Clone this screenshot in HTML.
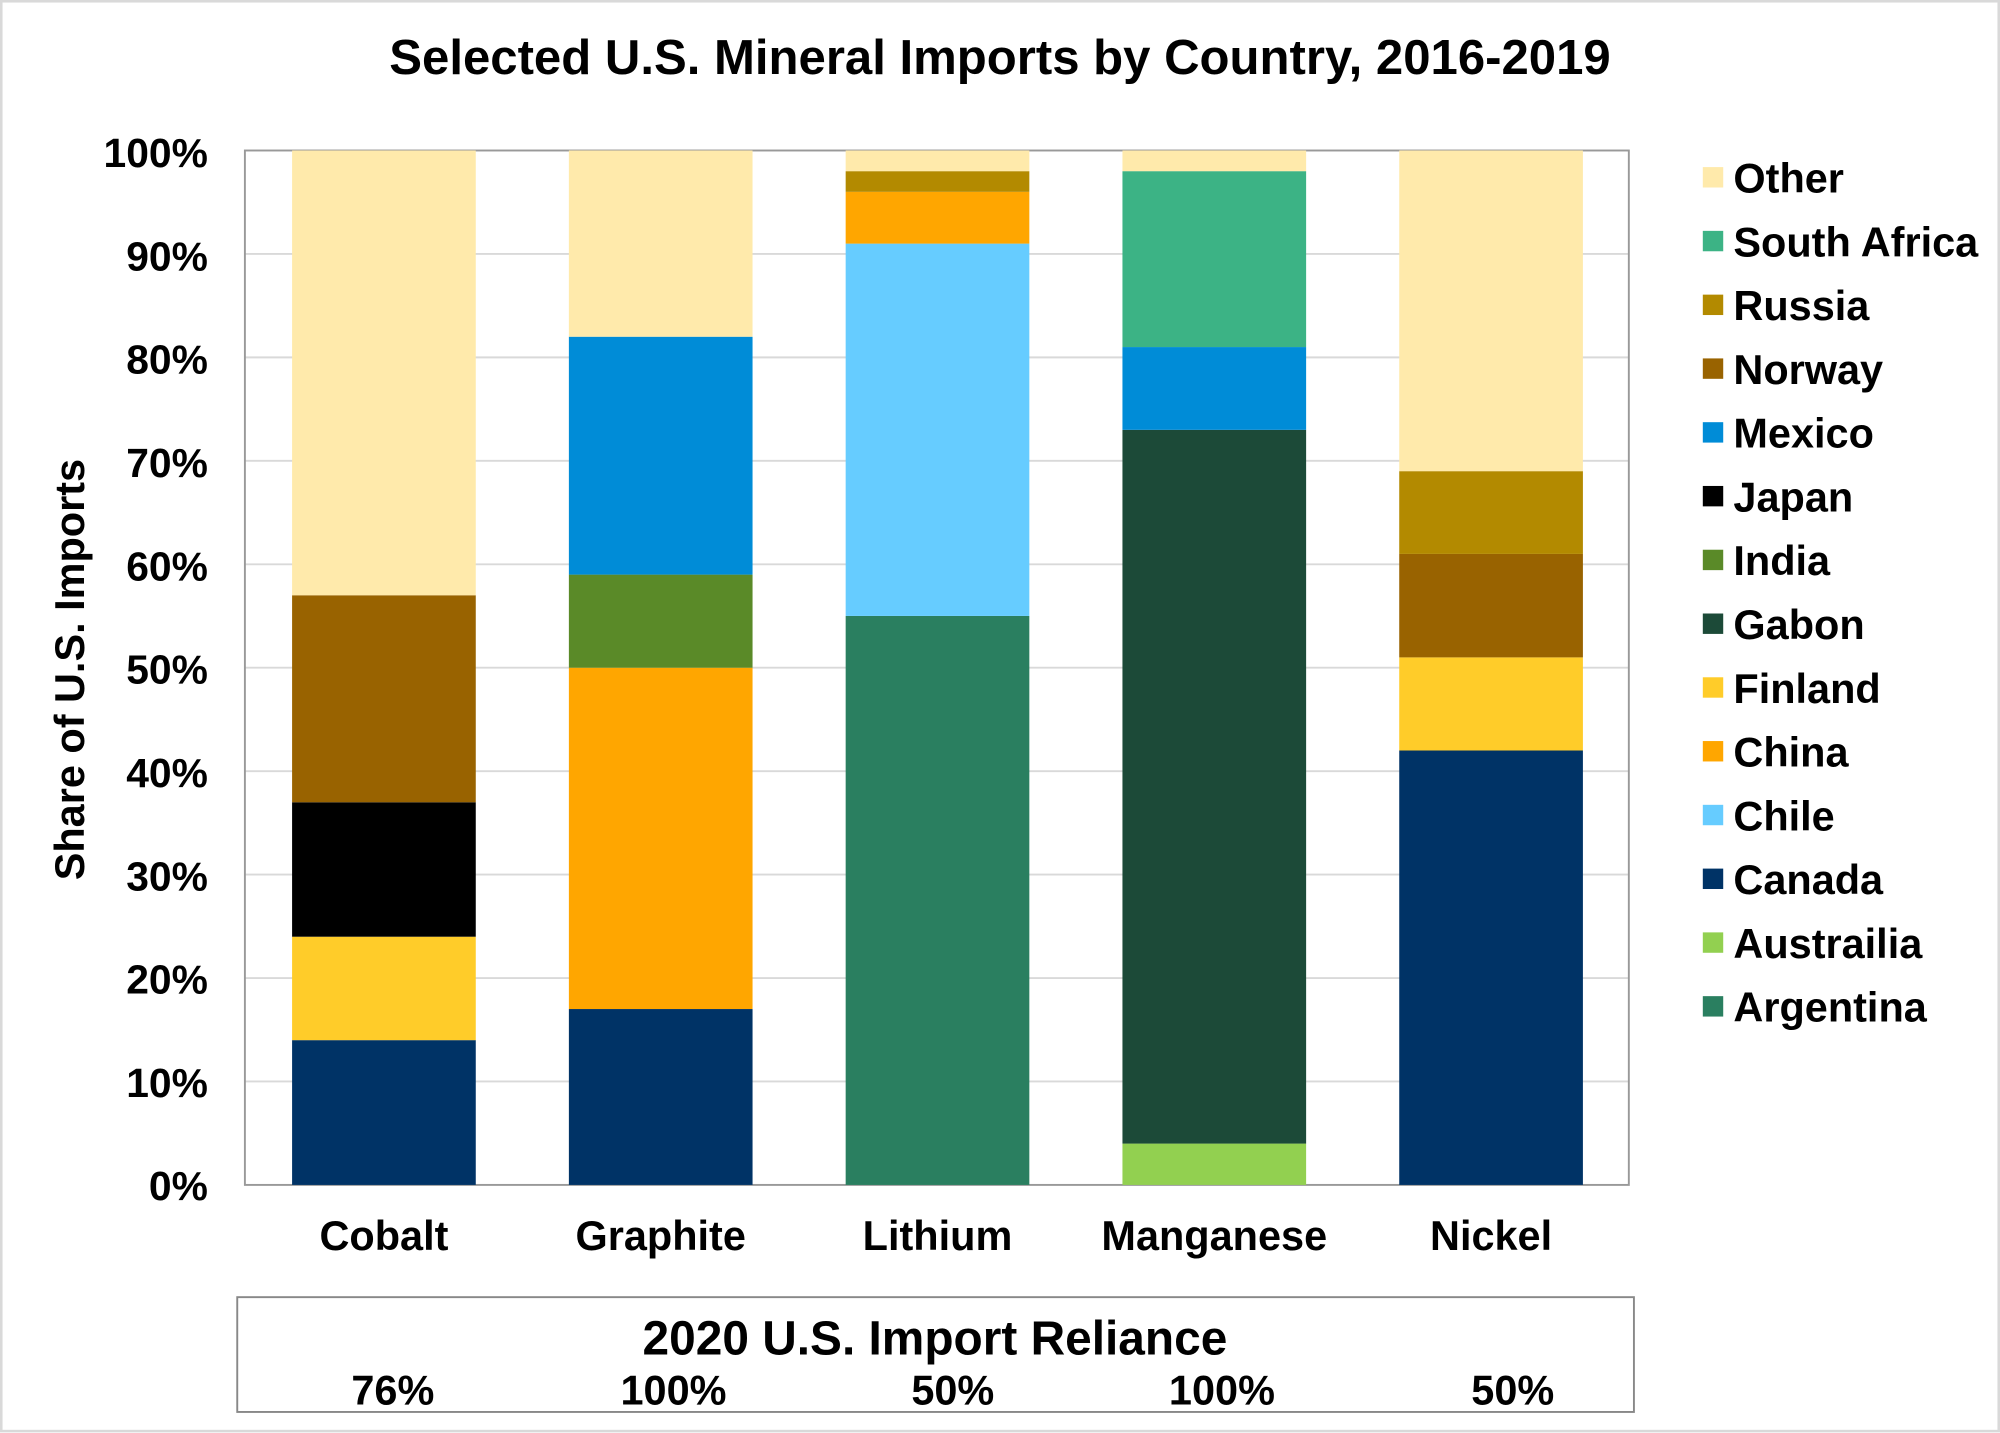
<!DOCTYPE html>
<html><head><meta charset="utf-8"><style>
html,body{margin:0;padding:0;background:#fff;}
svg{display:block;font-family:"Liberation Sans",Arial,sans-serif;font-weight:bold;}
</style></head><body>
<svg width="2000" height="1433" viewBox="0 0 1568 1123.5" preserveAspectRatio="none" xmlns="http://www.w3.org/2000/svg">
<rect x="1" y="1" width="1566" height="1121" fill="#fff" stroke="#d9d9d9" stroke-width="2"/>
<text x="784" y="58" font-size="38.5" text-anchor="middle">Selected U.S. Mineral Imports by Country, 2016-2019</text>
<g stroke="#d9d9d9" stroke-width="1.5">
<line x1="192" x2="1277" y1="847.9" y2="847.9"/><line x1="192" x2="1277" y1="766.8" y2="766.8"/>
<line x1="192" x2="1277" y1="685.7" y2="685.7"/><line x1="192" x2="1277" y1="604.6" y2="604.6"/>
<line x1="192" x2="1277" y1="523.5" y2="523.5"/><line x1="192" x2="1277" y1="442.4" y2="442.4"/>
<line x1="192" x2="1277" y1="361.3" y2="361.3"/><line x1="192" x2="1277" y1="280.2" y2="280.2"/>
<line x1="192" x2="1277" y1="199.1" y2="199.1"/>
</g>
<rect x="192" y="118" width="1085" height="811" fill="none" stroke="#999" stroke-width="1.5"/>
<rect x="229" y="815.5" width="144" height="113.5" fill="#003366"/>
<rect x="229" y="734.4" width="144" height="81.1" fill="#FFCC29"/>
<rect x="229" y="629" width="144" height="105.4" fill="#000"/>
<rect x="229" y="466.7" width="144" height="162.3" fill="#996300"/>
<rect x="229" y="118" width="144" height="348.7" fill="#FFEAAB"/>
<rect x="446" y="791.1" width="144" height="137.9" fill="#003366"/>
<rect x="446" y="523.5" width="144" height="267.6" fill="#FFA600"/>
<rect x="446" y="450.5" width="144" height="73" fill="#5A8A28"/>
<rect x="446" y="264" width="144" height="186.5" fill="#008CD7"/>
<rect x="446" y="118" width="144" height="146" fill="#FFEAAB"/>
<rect x="663" y="482.9" width="144" height="446.1" fill="#2A7F60"/>
<rect x="663" y="191" width="144" height="291.9" fill="#66CCFF"/>
<rect x="663" y="150.4" width="144" height="40.6" fill="#FFA600"/>
<rect x="663" y="134.2" width="144" height="16.2" fill="#B38A00"/>
<rect x="663" y="118" width="144" height="16.2" fill="#FFEAAB"/>
<rect x="880" y="896.6" width="144" height="32.4" fill="#92D050"/>
<rect x="880" y="337" width="144" height="559.6" fill="#1C4A38"/>
<rect x="880" y="272.1" width="144" height="64.9" fill="#008CD7"/>
<rect x="880" y="134.2" width="144" height="137.9" fill="#3CB385"/>
<rect x="880" y="118" width="144" height="16.2" fill="#FFEAAB"/>
<rect x="1097" y="588.4" width="144" height="340.6" fill="#003366"/>
<rect x="1097" y="515.4" width="144" height="73" fill="#FFCC29"/>
<rect x="1097" y="434.3" width="144" height="81.1" fill="#996300"/>
<rect x="1097" y="369.4" width="144" height="64.9" fill="#B38A00"/>
<rect x="1097" y="118" width="144" height="251.4" fill="#FFEAAB"/>
<g font-size="32" text-anchor="end">
<text x="163" y="941">0%</text><text x="163" y="860">10%</text><text x="163" y="779">20%</text>
<text x="163" y="698">30%</text><text x="163" y="617">40%</text><text x="163" y="536">50%</text>
<text x="163" y="455">60%</text><text x="163" y="374">70%</text><text x="163" y="293">80%</text>
<text x="163" y="212">90%</text><text x="163" y="131">100%</text>
</g>
<text transform="translate(66,525) rotate(-90)" font-size="32.5" text-anchor="middle">Share of U.S. Imports</text>
<g font-size="32.5" text-anchor="middle">
<text x="301" y="980">Cobalt</text><text x="518" y="980">Graphite</text><text x="735" y="980">Lithium</text>
<text x="952" y="980">Manganese</text><text x="1169" y="980">Nickel</text>
</g>
<g font-size="32.5">
<rect x="1335" y="131" width="16" height="16" fill="#FFEAAB"/><text x="1359" y="151">Other</text>
<rect x="1335" y="181" width="16" height="16" fill="#3CB385"/><text x="1359" y="201">South Africa</text>
<rect x="1335" y="231" width="16" height="16" fill="#B38A00"/><text x="1359" y="251">Russia</text>
<rect x="1335" y="281" width="16" height="16" fill="#996300"/><text x="1359" y="301">Norway</text>
<rect x="1335" y="331" width="16" height="16" fill="#008CD7"/><text x="1359" y="351">Mexico</text>
<rect x="1335" y="381" width="16" height="16" fill="#000"/><text x="1359" y="401">Japan</text>
<rect x="1335" y="431" width="16" height="16" fill="#5A8A28"/><text x="1359" y="451">India</text>
<rect x="1335" y="481" width="16" height="16" fill="#1C4A38"/><text x="1359" y="501">Gabon</text>
<rect x="1335" y="531" width="16" height="16" fill="#FFCC29"/><text x="1359" y="551">Finland</text>
<rect x="1335" y="581" width="16" height="16" fill="#FFA600"/><text x="1359" y="601">China</text>
<rect x="1335" y="631" width="16" height="16" fill="#66CCFF"/><text x="1359" y="651">Chile</text>
<rect x="1335" y="681" width="16" height="16" fill="#003366"/><text x="1359" y="701">Canada</text>
<rect x="1335" y="731" width="16" height="16" fill="#92D050"/><text x="1359" y="751">Austrailia</text>
<rect x="1335" y="781" width="16" height="16" fill="#2A7F60"/><text x="1359" y="801">Argentina</text>
</g>
<rect x="186" y="1017" width="1095" height="90" fill="#fff" stroke="#888" stroke-width="1.5"/>
<text x="733" y="1062" font-size="37.5" text-anchor="middle">2020 U.S. Import Reliance</text>
<g font-size="32.5" text-anchor="middle">
<text x="308" y="1101">76%</text><text x="528" y="1101">100%</text><text x="747" y="1101">50%</text>
<text x="958" y="1101">100%</text><text x="1186" y="1101">50%</text>
</g>
</svg>
</body></html>
